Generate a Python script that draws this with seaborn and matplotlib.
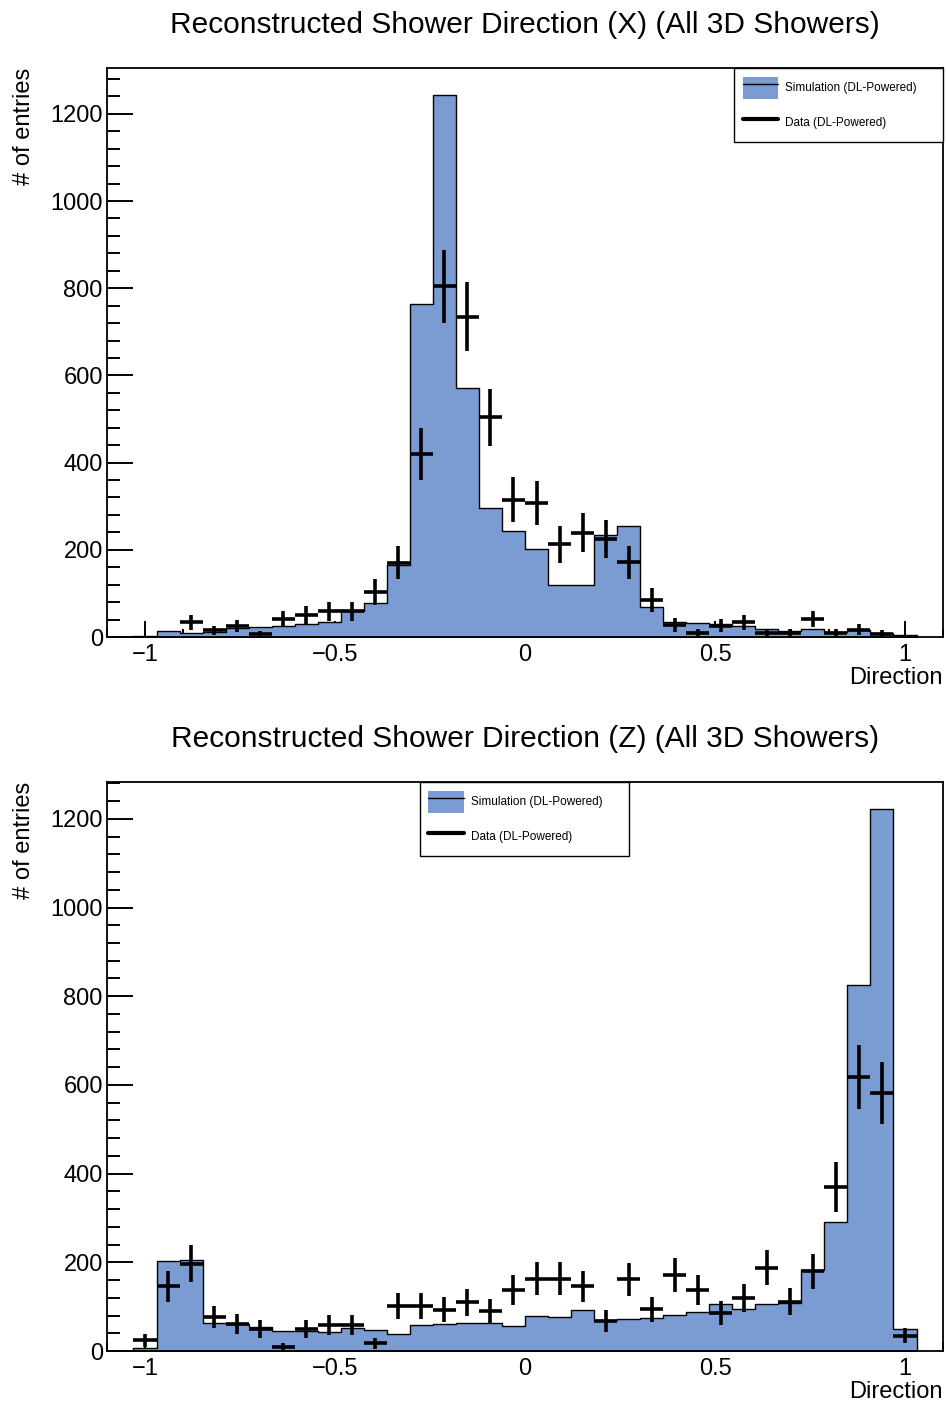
import numpy as np
import pandas as pd
import seaborn as sns
import matplotlib
matplotlib.use("Agg")
import matplotlib.pyplot as plt
from matplotlib.patches import Patch
from matplotlib.lines import Line2D
from matplotlib.legend_handler import HandlerTuple
from matplotlib.ticker import MultipleLocator, FuncFormatter

# Binning: 34 bins of width 2/33 spanning [-1 - 1/33, 1 + 1/33]
n_bins = 34
x_lo, x_hi = -17 / 16.5, 17 / 16.5

# Shower direction, X component
sim_x = [3, 13, 10, 12, 21, 23, 25, 29, 34, 59, 78, 166, 763, 1243, 572, 296,
         243, 202, 119, 120, 234, 255, 68, 34, 33, 30, 26, 18, 13, 19, 12, 15, 10, 4]
data_x = [0, 0, 34, 15, 25, 6, 41, 50, 59, 59, 103, 170, 419, 804, 735, 504,
          315, 307, 213, 239, 224, 171, 85, 28, 9, 26, 34, 9, 9, 41, 9, 17, 8, 0]

# Shower direction, Z component
sim_z = [7, 204, 205, 63, 60, 54, 44, 44, 42, 52, 47, 39, 58, 60, 63, 64,
         56, 80, 77, 92, 69, 73, 75, 82, 88, 105, 95, 107, 109, 183, 290, 825, 1222, 49]
data_z = [24, 146, 197, 77, 60, 50, 9, 50, 59, 59, 17, 102, 102, 93, 110, 90,
          137, 163, 163, 146, 68, 162, 94, 172, 137, 86, 120, 188, 111, 180, 370, 618, 582, 34]

# Data are POT-scaled counts; statistical error = sqrt(scale * N)
pot_scale = 8.5

titles = ["Reconstructed Shower Direction (X) (All 3D Showers)",
          "Reconstructed Shower Direction (Z) (All 3D Showers)"]
legend_boxes = [(0.75, 0.877, 0.25, 0.123), (0.374, 0.877, 0.25, 0.123)]
sim_label = "Simulation (DL-Powered)"
data_label = "Data (DL-Powered)"
fill_color = "#7b9bd3"

sns.set_theme(style="ticks")
plt.rcParams["font.family"] = ["Liberation Sans", "DejaVu Sans"]
plt.rcParams["text.color"] = "black"
plt.rcParams["axes.labelcolor"] = "black"
plt.rcParams["xtick.color"] = "black"
plt.rcParams["ytick.color"] = "black"

fig = plt.figure(figsize=(9.46, 14.05), dpi=100)
ax_rects = [[107 / 946, 1 - 637 / 1405, 836 / 946, 569 / 1405],
            [107 / 946, 1 - 1351 / 1405, 836 / 946, 569 / 1405]]

edges = np.linspace(x_lo, x_hi, n_bins + 1)
centers = 0.5 * (edges[:-1] + edges[1:])
bin_w = edges[1] - edges[0]


def tick_fmt(v, pos):
    if abs(v) < 1e-9:
        return "0"
    return f"{v:g}".replace("-", "\u2212")


panels = [(sim_x, data_x), (sim_z, data_z)]
for k, (sim, data) in enumerate(panels):
    ax = fig.add_axes(ax_rects[k])
    df = pd.DataFrame({"direction": centers, "sim": sim, "data": data})

    sns.histplot(data=df, x="direction", weights="sim",
                 binwidth=bin_w, binrange=(x_lo, x_hi),
                 element="step", fill=True, color=fill_color, alpha=1.0,
                 edgecolor="black", linewidth=1.0, ax=ax)

    d = df["data"].to_numpy(dtype=float)
    mask = d > 0
    yerr = np.sqrt(pot_scale * d)
    ax.errorbar(df["direction"].to_numpy()[mask], d[mask], xerr=bin_w / 2,
                yerr=yerr[mask], fmt="none", ecolor="black", elinewidth=2.6,
                capsize=0, zorder=5)

    ax.set_xlim(-1.1, 1.1)
    ax.set_ylim(0, 1.05 * max(sim))

    ax.xaxis.set_major_locator(MultipleLocator(0.5))
    ax.xaxis.set_minor_locator(MultipleLocator(0.1))
    ax.yaxis.set_major_locator(MultipleLocator(200))
    ax.yaxis.set_minor_locator(MultipleLocator(40))
    ax.xaxis.set_major_formatter(FuncFormatter(tick_fmt))

    ax.tick_params(axis="both", which="both", direction="in", colors="black",
                   labelcolor="black", width=1.4, top=False, right=False,
                   labelsize=17)
    ax.tick_params(axis="y", which="major", length=18.5, pad=3)
    ax.tick_params(axis="y", which="minor", length=9.2)
    ax.tick_params(axis="x", which="major", length=11.3, pad=5)
    ax.tick_params(axis="x", which="minor", length=5.8)

    for sp in ax.spines.values():
        sp.set_visible(True)
        sp.set_color("black")
        sp.set_linewidth(1.3)

    ax.set_xlabel("Direction", fontsize=17, loc="right", color="black")
    ax.xaxis.set_label_coords(1.0, -0.052)
    ax.xaxis.label.set_va("top")
    ax.set_ylabel("# of entries", fontsize=17, loc="top", color="black")
    ax.yaxis.set_label_coords(-0.086, 1.0)

    ax.set_title(titles[k], fontsize=21.5, pad=25, color="black")

    sim_handle = (Patch(facecolor=fill_color, edgecolor="none"),
                  Line2D([0], [0], color="black", lw=1.0))
    data_handle = Line2D([0], [0], color="black", lw=3.0)
    leg = ax.legend([sim_handle, data_handle], [sim_label, data_label],
                    handler_map={tuple: HandlerTuple(ndivide=1, pad=0)},
                    loc="upper left", bbox_to_anchor=legend_boxes[k],
                    mode="expand", borderaxespad=0, fontsize=8.5,
                    handlelength=3.0, handleheight=2.5, handletextpad=0.6,
                    labelspacing=1.08, borderpad=0.72, fancybox=False,
                    framealpha=1.0, edgecolor="black")
    leg.get_frame().set_linewidth(1.0)
    for t in leg.get_texts():
        t.set_color("black")

fig.savefig("out.png", dpi=100)
